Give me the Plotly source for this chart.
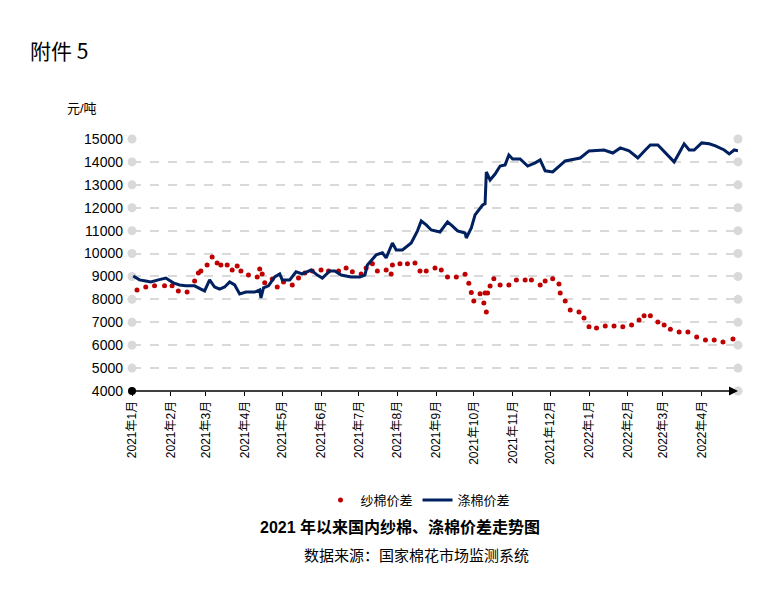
import datetime as dt
import plotly.graph_objects as go

start = dt.date(2021, 1, 1)

# 纱棉价差 (days since 2021-01-01, yuan/ton)
yarn_days = [4, 11, 18, 26, 32, 37, 44, 50, 53, 55, 60, 64, 68, 71, 76, 80, 84, 87, 93, 100,
             102, 104, 106, 112, 116, 121, 128, 133, 138, 144, 151, 157, 165, 171, 176, 183, 187,
             192, 196, 203, 207, 208, 214, 220, 226, 230, 235, 242, 247, 252, 259, 266, 269, 271,
             273, 278, 282, 281, 283, 284, 286, 289, 294, 301, 307, 314, 319, 326, 330, 336, 341,
             342, 346, 350, 357, 361, 365, 371, 378, 385, 392, 399, 405, 409, 414, 420, 425, 430,
             437, 444, 451, 458, 465, 472, 480]
yarn_vals = [8410, 8540, 8590, 8590, 8590, 8370, 8320, 8800, 9150, 9240, 9500, 9850, 9590, 9500,
             9500, 9280, 9460, 9240, 9060, 8980, 9330, 9110, 8720, 8890, 8540, 8760, 8630, 8930,
             9150, 9240, 9280, 9240, 9240, 9370, 9200, 9110, 9370, 9550, 9240, 9280, 9110, 9500,
             9550, 9550, 9590, 9240, 9240, 9370, 9280, 8980, 8980, 9100, 8700, 8300, 7930, 8240,
             8280, 7840, 7450, 8280, 8580, 8900, 8630, 8630, 8840, 8840, 8840, 8630, 8800, 8900,
             8670, 8280, 7930, 7540, 7450, 7190, 6800, 6750, 6840, 6840, 6800, 6880, 7100, 7280,
             7280, 7010, 6880, 6700, 6580, 6580, 6360, 6230, 6230, 6140, 6270]

# 涤棉价差
poly_days = [1, 6, 11, 15, 21, 27, 33, 38, 43, 50, 55, 58, 62, 66, 70, 74, 78, 82, 86, 91, 98,
             102, 103, 105, 109, 114, 118, 120, 126, 131, 136, 143, 148, 152, 158, 162, 167, 175,
             182, 186, 188, 195, 200, 203, 208, 211, 216, 223, 228, 231, 235, 239, 246, 250, 252,
             256, 260, 266, 267, 271, 274, 280, 282, 283, 286, 290, 294, 298, 301, 304, 310, 316,
             322, 326, 330, 336, 340, 346, 354, 358, 365, 372, 377, 384, 390, 397, 404, 410, 414,
             420, 423, 428, 433, 437, 441, 445, 449, 455, 461, 466, 473, 477, 481, 484]
poly_vals = [9020, 8850, 8800, 8760, 8850, 8930, 8720, 8630, 8590, 8590, 8450, 8370, 8850, 8540,
             8450, 8540, 8760, 8630, 8240, 8320, 8320, 8410, 8060, 8500, 8590, 8980, 9110, 8850,
             8850, 9200, 9110, 9280, 9060, 8930, 9240, 9240, 9060, 8980, 8980, 9060, 9500, 9940,
             10030, 9810, 10460, 10160, 10160, 10460, 10990, 11420, 11250, 11030, 10940, 11250,
             11380, 11200, 10990, 10900, 10680, 11120, 11690, 12120, 12170, 13560, 13210, 13470,
             13820, 13870, 14300, 14130, 14130, 13820, 13960, 14090, 13610, 13560, 13740, 14040,
             14130, 14170, 14480, 14520, 14520, 14390, 14610, 14480, 14170, 14520, 14740, 14740,
             14570, 14300, 14000, 14390, 14790, 14520, 14520, 14830, 14790, 14700, 14520, 14350,
             14520, 14480]

month_starts = [0, 31, 59, 90, 120, 151, 181, 212, 243, 273, 304, 334, 365, 396, 424, 455]
month_labels = ["2021年%d月" % m for m in range(1, 13)] + ["2022年%d月" % m for m in range(1, 5)]
y_ticks = list(range(4000, 15001, 1000))

to_date = lambda d: start + dt.timedelta(days=d)
x_end = 484

# plot area in pixels, used to place the free text
L, T, W, H = 124, 131, 606, 252
px = lambda x: (x - L) / W
py = lambda y: 1 - (y - T) / H

fig = go.Figure()
# gray end circles on the gridlines
fig.add_trace(go.Scatter(x=[to_date(0)] * (len(y_ticks) - 1) + [to_date(x_end)] * len(y_ticks),
                         y=y_ticks[1:] + y_ticks, mode="markers", cliponaxis=False,
                         marker=dict(color="#d9d9d9", size=9), showlegend=False, hoverinfo="skip"))
fig.add_trace(go.Scatter(x=[to_date(d) for d in yarn_days], y=yarn_vals, mode="markers",
                         name="纱棉价差", marker=dict(color="#c00000", size=5)))
fig.add_trace(go.Scatter(x=[to_date(d) for d in poly_days], y=poly_vals, mode="lines",
                         name="涤棉价差", line=dict(color="#002060", width=3)))
# axis origin dot
fig.add_trace(go.Scatter(x=[to_date(0)], y=[4000], mode="markers", cliponaxis=False,
                         marker=dict(color="black", size=8), showlegend=False, hoverinfo="skip"))
fig.add_annotation(x=to_date(x_end), y=4000, ax=to_date(0), ay=4000, axref="x", ayref="y",
                   showarrow=True, arrowhead=2, arrowsize=1.2, arrowwidth=1.5, arrowcolor="black", text="")

fig.update_layout(
    width=783, height=595, plot_bgcolor="white", paper_bgcolor="white",
    margin=dict(l=L, r=783 - L - W, t=T, b=595 - T - H, autoexpand=False),
    font=dict(family="Arial, Noto Sans CJK SC", color="black"),
    legend=dict(orientation="h", x=px(410), xanchor="center", y=py(492), yanchor="middle",
                font=dict(size=13)),
    xaxis=dict(range=[to_date(0), to_date(x_end)], tickvals=[to_date(d) for d in month_starts],
               ticktext=month_labels, tickangle=-90, tickfont=dict(size=12), showgrid=False,
               showline=False, ticks="outside", ticklen=4, tickcolor="black"),
    yaxis=dict(range=[4000, 15000], tickvals=y_ticks, ticktext=[str(v) for v in y_ticks],
               tickfont=dict(size=14), showline=False,
               gridcolor="#d9d9d9", griddash="dash", gridwidth=1.5, zeroline=False, ticklabelstandoff=8),
)
fig.add_annotation(text="附件 5", xref="paper", yref="paper", x=px(20), y=py(42), showarrow=False,
                   font=dict(size=21, family="Noto Sans CJK SC"), xanchor="left", yanchor="middle")
fig.add_annotation(text="元/吨", xref="paper", yref="paper", x=px(57), y=py(100),
                   showarrow=False, font=dict(size=13), xanchor="left", yanchor="middle")
fig.add_annotation(text="<b>2021 年以来国内纱棉、涤棉价差走势图</b>", xref="paper", yref="paper",
                   x=px(392), y=py(530), showarrow=False, font=dict(size=16))
fig.add_annotation(text="数据来源：国家棉花市场监测系统", xref="paper", yref="paper",
                   x=px(408), y=py(558), showarrow=False, font=dict(size=15))
fig.write_html("out.html")
